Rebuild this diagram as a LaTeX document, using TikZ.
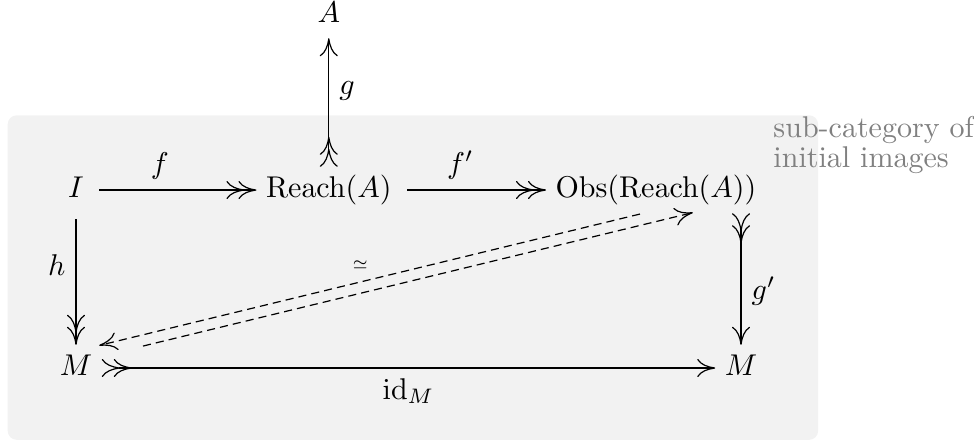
\documentclass[tikz,border=0pt]{standalone}
\usepackage{amsmath}
\usepackage{tikz}
\usetikzlibrary{arrows.meta}

\begin{document}
\begin{tikzpicture}[>={Computer Modern Rightarrow[length=6pt, width=6pt, sep=-2pt]}, obj/.style={inner sep=5pt, text height=1.6ex, text depth=0.5ex}, iso/.style={dash pattern=on 2.7pt off 1.7pt}]
\useasboundingbox (0,0) rectangle (11.405,-5.234);
\fill[black!5, rounded corners=3pt] (0.09,-1.35) rectangle (9.58,-5.15);
\node[name=caption, anchor=north west, align=left, text=gray, inner sep=0pt, font=\fontsize{10}{8}\selectfont] at (9.05,-1.35) {sub-category of\\initial images};

\node[obj, name=a] at (3.85,-0.176) {$A$};
\node[obj, name=i] at (0.89,-2.225) {$I$};
\node[obj, name=reach] at (3.85,-2.225) {$\mathrm{Reach}(A)$};
\node[obj, name=obs] at (7.681,-2.225) {$\mathrm{Obs}(\mathrm{Reach}(A))$};
\node[obj, name=m_1] at (0.89,-4.309) {$M$};
\node[obj, name=m_2] at (8.677,-4.309) {$M$};
\coordinate (iso_1) at (7.494,-2.506);
\coordinate (iso_2) at (1.230,-4.028);
\coordinate (iso_3) at (1.674,-4.052);
\coordinate (iso_4) at (8.044,-2.506);

\draw(i.east) edge[->>]node[above, pos=0.4]{$f$}(reach.west);
\draw(reach.east) edge[->>]node[above, pos=0.4]{$f'$}(obs.west);
\draw(reach.north) edge[>>->]node[right, pos=0.6]{$g$}(a.south);
\draw(i.south) edge[->>]node[left, pos=0.38]{$h$}(m_1.north);
\draw(obs.south -| m_2) edge[>>->]node[right, pos=0.6]{$g'$}(m_2.north);
\draw(m_1.east) edge[>>->]node[below]{$\mathrm{id}_M$}(m_2.west);
\draw(iso_1) edge[->, iso]node[above=1pt, pos=0.523]{\tiny $\simeq$}(iso_2);
\draw(iso_3) edge[->, iso](iso_4);
\end{tikzpicture}
\end{document}
